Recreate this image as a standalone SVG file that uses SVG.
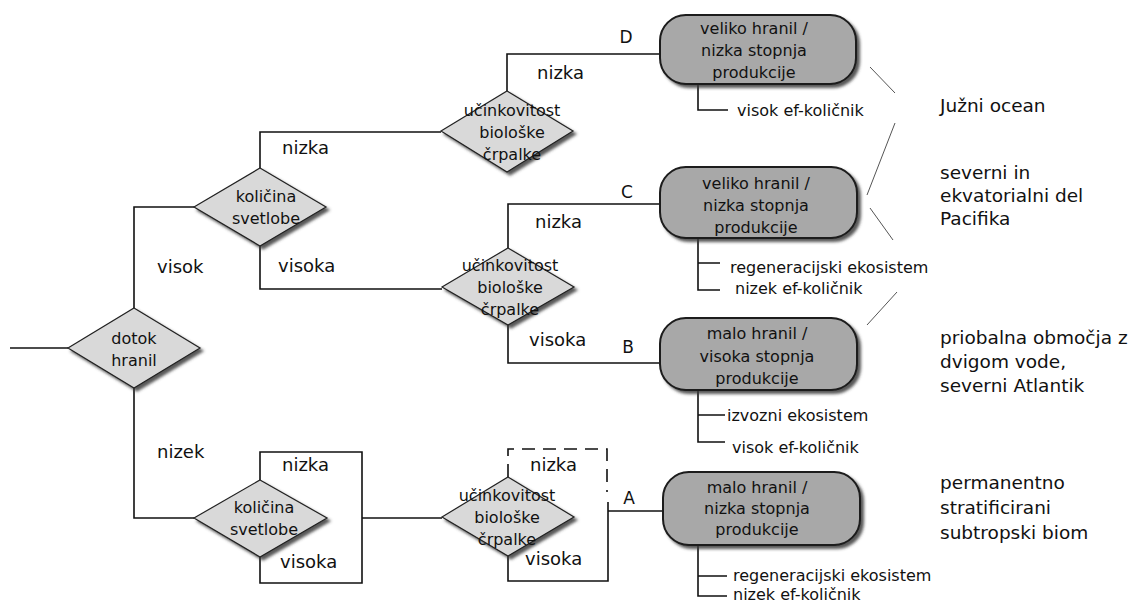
<svg xmlns="http://www.w3.org/2000/svg" width="1133" height="605" viewBox="0 0 1133 605">
<defs>
<filter id="sh" x="-20%" y="-20%" width="140%" height="150%">
<feGaussianBlur in="SourceAlpha" stdDeviation="1.6"/>
<feOffset dx="3" dy="3" result="b"/>
<feFlood flood-color="#3a3a3a" flood-opacity="0.85"/>
<feComposite in2="b" operator="in"/>
<feMerge><feMergeNode/><feMergeNode in="SourceGraphic"/></feMerge>
</filter>
</defs>
<style>
text{font-family:"DejaVu Sans","Verdana",sans-serif;fill:#111}
.dia{fill:#d9d9d9;stroke:#222;stroke-width:1.2;filter:url(#sh)}
.box{fill:#a8a8a8;stroke:#1a1a1a;stroke-width:2;filter:url(#sh)}
.ln{fill:none;stroke:#111;stroke-width:1.6}
.dash{fill:none;stroke:#111;stroke-width:1.6;stroke-dasharray:13 8}
.thin{fill:none;stroke:#555;stroke-width:1}
.dt{font-size:16px;text-anchor:middle}
.bt{font-size:16px;text-anchor:middle}
.lb{font-size:18px}
.let{font-size:17px;text-anchor:middle}
.st{font-size:16px}
.rt{font-size:18.5px}
</style>
<rect width="1133" height="605" fill="#fff"/>
<g id="connectors">
<path class="ln" d="M10,348 H68"/>
<path class="ln" d="M134,308 V207 H194"/>
<path class="ln" d="M134,388 V518 H194"/>
<path class="ln" d="M260,168 V132 H441"/>
<path class="ln" d="M260,246 V289 H442"/>
<path class="ln" d="M507,91 V54 H660"/>
<path class="ln" d="M508,248 V204 H660"/>
<path class="ln" d="M508,325 V363 H660"/>
<path class="ln" d="M260,480 V452 H362 V583 H260 V557"/>
<path class="ln" d="M362,518 H442"/>
<path class="dash" d="M508,477 V449 H607 V492"/>
<path class="ln" d="M508,556 V581 H608 V502"/>
<path class="ln" d="M608,511 H663"/>
<path class="ln" d="M698,84 V110 H728"/>
<path class="ln" d="M698,238 V290 H720 M698,263 H720"/>
<path class="ln" d="M698,390 V442 H725 M698,415 H725"/>
<path class="ln" d="M698,545 V596 H727 M698,576 H727"/>
<path class="thin" d="M870,67 L895,93 M895,123 L867,195 M870,208 L893,240 M897,292 L867,325"/>
<text class="lb" x="157" y="273">visok</text>
<text class="lb" x="157" y="458">nizek</text>
<text class="lb" x="282" y="154">nizka</text>
<text class="lb" x="278" y="272">visoka</text>
<text class="lb" x="537" y="79">nizka</text>
<text class="lb" x="535" y="228">nizka</text>
<text class="lb" x="529" y="346">visoka</text>
<text class="lb" x="282" y="471">nizka</text>
<text class="lb" x="280" y="568">visoka</text>
<text class="lb" x="530" y="471">nizka</text>
<text class="lb" x="525" y="565">visoka</text>
<text class="let" x="626" y="43">D</text>
<text class="let" x="627" y="198">C</text>
<text class="let" x="628" y="353">B</text>
<text class="let" x="629" y="504">A</text>
</g>
<g id="n-dotok">
<polygon class="dia" points="134,308 200,348 134,388 68,348"/>
<text class="dt" x="134" y="344">dotok</text>
<text class="dt" x="134" y="366">hranil</text>
</g>
<g id="n-svetloba-1">
<polygon class="dia" points="260,168 326,207 260,246 194,207"/>
<text class="dt" x="266" y="202">količina</text>
<text class="dt" x="266" y="224">svetlobe</text>
</g>
<g id="n-crpalka-1">
<polygon class="dia" points="507,91 573,131 507,172 441,131"/>
<text class="dt" x="512" y="116">učinkovitost</text>
<text class="dt" x="512" y="138">biološke</text>
<text class="dt" x="512" y="160">črpalke</text>
</g>
<g id="n-crpalka-2">
<polygon class="dia" points="508,248 574,287 508,325 442,287"/>
<text class="dt" x="510" y="271">učinkovitost</text>
<text class="dt" x="510" y="293">biološke</text>
<text class="dt" x="510" y="315">črpalke</text>
</g>
<g id="n-svetloba-2">
<polygon class="dia" points="260,480 327,518 260,557 194,518"/>
<text class="dt" x="264" y="513">količina</text>
<text class="dt" x="264" y="535">svetlobe</text>
</g>
<g id="n-crpalka-3">
<polygon class="dia" points="508,477 574,517 508,556 442,517"/>
<text class="dt" x="507" y="501">učinkovitost</text>
<text class="dt" x="507" y="523">biološke</text>
<text class="dt" x="507" y="545">črpalke</text>
</g>
<g id="n-D">
<rect class="box" x="660" y="15" width="196" height="69" rx="26"/>
<text class="bt" x="754" y="34">veliko hranil /</text>
<text class="bt" x="754" y="56">nizka stopnja</text>
<text class="bt" x="754" y="78">produkcije</text>
<text class="st" x="737" y="116">visok ef-količnik</text>
</g>
<g id="n-C">
<rect class="box" x="660" y="167" width="197" height="71" rx="26"/>
<text class="bt" x="756" y="189">veliko hranil /</text>
<text class="bt" x="756" y="211">nizka stopnja</text>
<text class="bt" x="756" y="233">produkcije</text>
<text class="st" x="730" y="273">regeneracijski ekosistem</text>
<text class="st" x="735" y="294">nizek ef-količnik</text>
</g>
<g id="n-B">
<rect class="box" x="660" y="318" width="197" height="72" rx="26"/>
<text class="bt" x="757" y="339">malo hranil /</text>
<text class="bt" x="757" y="362">visoka stopnja</text>
<text class="bt" x="757" y="384">produkcije</text>
<text class="st" x="727" y="421">izvozni ekosistem</text>
<text class="st" x="732" y="453">visok ef-količnik</text>
</g>
<g id="n-A">
<rect class="box" x="663" y="472" width="197" height="73" rx="26"/>
<text class="bt" x="757" y="493">malo hranil /</text>
<text class="bt" x="757" y="514">nizka stopnja</text>
<text class="bt" x="757" y="535">produkcije</text>
<text class="st" x="733" y="581">regeneracijski ekosistem</text>
<text class="st" x="733" y="600">nizek ef-količnik</text>
</g>
<g id="regions">
<text class="rt" x="940" y="112">Južni ocean</text>
<text class="rt" x="940" y="179">severni in</text>
<text class="rt" x="940" y="202">ekvatorialni del</text>
<text class="rt" x="940" y="225">Pacifika</text>
<text class="rt" x="940" y="344">priobalna območja z</text>
<text class="rt" x="940" y="368">dvigom vode,</text>
<text class="rt" x="940" y="392">severni Atlantik</text>
<text class="rt" x="940" y="489">permanentno</text>
<text class="rt" x="940" y="514">stratificirani</text>
<text class="rt" x="940" y="539">subtropski biom</text>
</g>
</svg>
